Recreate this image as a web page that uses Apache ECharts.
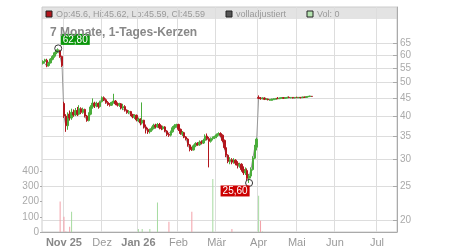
<!DOCTYPE html>
<html>
<head>
<meta charset="utf-8">
<script src="https://cdn.jsdelivr.net/npm/echarts@6/dist/echarts.min.js"></script>
<style>
  html, body { margin: 0; padding: 0; background: #fff; }
  #chart { width: 450px; height: 250px; }
</style>
</head>
<body>
<div id="chart"></div>
<script>
// trading calendar
const firstDay = "2025-10-17";
const lastDay = "2026-07-15";
const holidays = ["2025-12-24", "2025-12-25", "2025-12-26", "2025-12-31", "2026-01-01", "2026-04-03", "2026-04-06", "2026-05-01"];
const monthNames = ["Jan", "Feb", "Mär", "Apr", "Mai", "Jun", "Jul", "Aug", "Sep", "Okt", "Nov", "Dez"];
const priceTicks = [20, 25, 30, 35, 40, 45, 50, 55, 60, 65];

// daily candles (one per trading day from firstDay)
const open = [
  56.8, 57.5, 58.0, 56.0, 57.0, 58.4, 59.6, 61.0, 61.6, 61.8, 59.5,
  43.5, 40.0, 37.5, 40.5, 39.5, 41.0, 40.3, 41.5, 40.5, 42.0, 41.0, 41.8, 40.0, 38.8, 40.5, 42.5, 43.6, 42.8, 43.5, 42.6,
  44.0, 45.2, 44.6, 43.8, 43.2, 43.0, 43.8, 44.2, 43.4, 43.0, 43.4, 42.2, 42.6, 41.6, 41.0, 41.2, 40.4, 39.8, 40.2,
  38.8, 39.2, 38.2, 38.9, 37.2, 36.6, 36.0, 36.4, 36.8, 37.6, 37.2, 37.8, 37.0, 36.8, 37.2, 36.2, 35.4, 35.2, 36.0, 37.0, 37.5,
  37.8, 36.6, 35.6, 35.8, 34.8, 34.3, 33.0, 32.3, 31.9, 32.8, 33.3, 33.0, 33.6, 33.4, 34.0, 35.0, 34.4, 33.8, 34.4, 34.6,
  34.9, 35.3, 35.6, 35.2, 34.0, 32.4, 30.8, 29.6, 29.9, 29.4, 29.8, 29.2, 28.8, 29.0, 28.0, 27.4, 27.8, 26.4, 26.8, 28.0, 30.2, 32.5,
  45.3, 45.0, 44.9, 45.1, 44.7, 44.8, 44.4, 44.4, 44.6, 44.7, 45.0, 44.9, 45.1, 45.2, 45.0, 45.2, 45.3, 45.2, 45.3, 45.1,
  45.3, 45.2, 45.3, 45.2, 45.4, 45.3, 45.5, 45.6, 45.6
];
const close = [
  57.6, 58.2, 55.8, 57.0, 58.5, 59.5, 61.0, 61.8, 62.2, 59.4, 56.0,
  40.0, 37.5, 40.5, 39.5, 41.0, 40.3, 41.5, 40.5, 42.0, 41.0, 41.8, 40.0, 38.8, 40.5, 42.5, 43.6, 42.8, 43.5, 42.6, 44.0,
  45.2, 44.6, 43.8, 43.2, 43.0, 43.8, 44.2, 43.4, 43.0, 43.4, 42.2, 42.6, 41.6, 41.0, 41.2, 40.4, 39.8, 40.2, 39.0,
  39.2, 38.2, 38.9, 37.2, 36.6, 36.0, 36.4, 36.8, 37.6, 37.2, 37.8, 37.0, 36.8, 37.2, 36.2, 35.4, 35.2, 36.0, 37.0, 37.5, 37.8,
  36.6, 35.6, 35.8, 34.8, 34.3, 33.0, 32.0, 31.9, 32.8, 33.3, 33.0, 33.6, 33.4, 34.0, 35.0, 34.4, 33.8, 34.4, 34.6, 34.9,
  35.3, 35.6, 35.2, 34.0, 32.4, 30.8, 29.6, 29.9, 29.4, 29.8, 29.2, 28.8, 29.0, 28.0, 27.4, 27.8, 26.4, 26.8, 28.0, 30.2, 32.5, 34.3,
  45.0, 44.9, 45.1, 44.7, 44.8, 44.6, 44.7, 44.8, 44.9, 45.0, 44.9, 45.1, 45.2, 45.0, 45.2, 45.3, 45.2, 45.3, 45.1, 45.3,
  45.2, 45.3, 45.2, 45.4, 45.3, 45.5, 45.6, 45.7, 45.59
];
const low = [
  56.4, 57.0, 55.4, 55.6, 56.8, 58.0, 59.0, 60.4, 61.0, 59.0, 55.5,
  39.5, 36.0, 36.5, 38.8, 39.0, 39.8, 40.0, 40.0, 40.2, 40.5, 40.6, 39.6, 38.5, 38.6, 40.2, 42.0, 42.2, 42.4, 42.0, 42.3,
  43.8, 44.2, 43.4, 42.8, 42.6, 42.8, 43.5, 43.0, 42.6, 42.5, 41.8, 41.6, 41.2, 40.6, 40.5, 40.0, 39.4, 39.2, 38.6,
  38.4, 37.6, 37.8, 36.8, 35.6, 35.5, 35.6, 36.0, 36.6, 36.8, 37.0, 36.6, 36.4, 36.5, 35.9, 35.0, 34.8, 34.9, 35.8, 36.6, 37.2,
  36.2, 35.3, 35.0, 34.5, 34.0, 32.6, 31.6, 31.7, 31.8, 32.5, 32.8, 32.8, 33.1, 33.2, 33.8, 34.0, 28.4, 33.5, 34.0, 34.3,
  34.5, 35.1, 34.8, 33.6, 32.0, 30.4, 29.2, 29.0, 29.0, 29.1, 28.8, 28.2, 28.4, 27.6, 27.0, 27.0, 26.0, 25.6, 26.4, 27.8, 30.0, 31.8,
  44.8, 44.6, 44.7, 44.5, 44.5, 44.4, 44.3, 44.3, 44.5, 44.6, 44.8, 44.8, 44.9, 44.9, 44.9, 45.0, 45.1, 45.0, 45.0, 45.0,
  45.1, 45.1, 45.0, 45.1, 45.2, 45.2, 45.4, 45.5, 45.59
];
const high = [
  58.0, 58.6, 58.6, 57.4, 58.8, 60.0, 61.4, 62.4, 62.8, 62.2, 59.8,
  44.0, 40.5, 41.0, 41.5, 42.0, 41.8, 42.2, 42.5, 43.0, 42.4, 42.3, 42.0, 40.3, 41.0, 43.0, 45.0, 44.0, 44.0, 43.8, 44.3,
  45.6, 45.6, 45.0, 44.2, 43.6, 44.0, 46.4, 44.5, 43.8, 43.7, 43.6, 43.4, 43.0, 41.8, 41.6, 41.4, 40.6, 40.5, 40.4,
  39.6, 39.4, 43.8, 39.0, 37.8, 37.0, 36.8, 37.3, 38.0, 38.0, 38.2, 38.2, 37.6, 37.5, 37.4, 36.4, 35.8, 36.3, 37.4, 37.9, 38.0,
  38.0, 36.8, 36.2, 36.0, 35.0, 34.5, 33.2, 32.6, 33.1, 33.6, 33.6, 34.0, 34.0, 34.3, 35.4, 35.6, 34.8, 34.7, 34.9, 35.1,
  35.6, 35.9, 35.9, 35.4, 34.2, 32.6, 31.0, 30.4, 30.2, 30.2, 30.0, 29.6, 29.3, 29.2, 28.6, 28.4, 28.2, 27.2, 28.4, 30.6, 33.0, 34.6,
  45.9, 45.4, 45.3, 45.3, 45.0, 44.9, 44.8, 44.9, 45.0, 45.1, 45.4, 45.2, 45.3, 45.4, 45.3, 45.5, 45.6, 45.4, 45.4, 45.4,
  45.5, 45.4, 45.4, 45.5, 45.5, 45.6, 45.7, 45.8, 45.62
];
const volume = [
  0, 0, 0, 0, 0, 0, 0, 0, 0, 200, 0, 100, 4, 0, 35, 133, 0, 0, 0, 0,
  0, 0, 0, 0, 0, 0, 0, 0, 0, 0, 0, 0, 0, 0, 0, 0, 0, 0, 0, 0,
  0, 0, 0, 0, 0, 0, 0, 0, 0, 0, 20, 0, 20, 0, 0, 0, 20, 0, 0, 0,
  193, 0, 0, 0, 0, 0, 68, 0, 0, 0, 0, 0, 0, 0, 0, 0, 0, 0, 133, 0,
  0, 0, 0, 0, 0, 0, 0, 0, 0, 348, 0, 0, 0, 0, 0, 0, 0, 0, 0, 20,
  0, 0, 0, 0, 0, 0, 0, 0, 0, 0, 0, 0, 0, 238, 74, 4, 0, 0, 0, 0,
  0, 0, 0, 0, 0, 0, 0, 0, 0, 0, 0, 0, 0, 0, 0, 0, 0, 0, 0, 0,
  0, 0
];

const UP = "#4aad3b";
const DOWN = "#b3161d";

function tradingDays(from, to) {
  const days = [];
  const d = new Date(from + "T00:00:00Z");
  const end = new Date(to + "T00:00:00Z");
  while (d <= end) {
    const wd = d.getUTCDay();
    const s = d.toISOString().slice(0, 10);
    if (wd !== 0 && wd !== 6 && !holidays.includes(s)) days.push(s);
    d.setUTCDate(d.getUTCDate() + 1);
  }
  return days;
}

const dates = tradingDays(firstDay, lastDay);
const isMonthStart = i => i > 0 && dates[i].slice(5, 7) !== dates[i - 1].slice(5, 7);
const firstMonthStart = dates.findIndex((d, i) => isMonthStart(i));

const candles = open.map((o, i) => [o, close[i], low[i], high[i]]);
const volBars = volume.map((v, i) => ({
  value: v,
  itemStyle: { color: i > 0 && close[i] < close[i - 1] ? "#f3a0a8" : "#a6dba0" }
}));

const last = open.length - 1;
const headerText = `Op:${open[last]}, Hi:${high[last]}, Lo:${low[last]}, Cl:${close[last]}`;
const comma = p => p.value.toFixed(2).replace(".", ",");
const font = "Liberation Sans, Arial, sans-serif";

const chart = echarts.init(document.getElementById("chart"));
chart.setOption({
  animation: false,
  textStyle: { fontFamily: font },
  title: {
    text: "7 Monate, 1-Tages-Kerzen",
    left: 45,
    top: 22,
    textStyle: { fontSize: 12, fontWeight: "bold", color: "#888" }
  },
  graphic: [
    { type: "rect", z: -10, shape: { x: 42, y: 7, width: 355, height: 12 }, style: { fill: "#e3e3e3" } },
    { type: "rect", shape: { x: 46, y: 11, width: 6, height: 6 }, style: { fill: "#b3161d", stroke: "#222", lineWidth: 1 } },
    { type: "text", x: 56, y: 14.5, style: { text: headerText, fill: "#999", fontSize: 9, verticalAlign: "middle", fontFamily: font } },
    { type: "rect", shape: { x: 226, y: 11, width: 6, height: 6 }, style: { fill: "#555", stroke: "#222", lineWidth: 1 } },
    { type: "text", x: 236, y: 14.5, style: { text: "volladjustiert", fill: "#999", fontSize: 9, verticalAlign: "middle", fontFamily: font } },
    { type: "rect", shape: { x: 307, y: 11, width: 6, height: 6 }, style: { fill: "#b5e3b0", stroke: "#222", lineWidth: 1 } },
    { type: "text", x: 317, y: 14.5, style: { text: "Vol: 0", fill: "#999", fontSize: 9, verticalAlign: "middle", fontFamily: font } }
  ],
  grid: [
    { left: 42, right: 53, top: 7, bottom: 18, show: true, borderColor: "#ccc", borderWidth: 1 },
    { left: 42, right: 53, bottom: 18, height: 61 }
  ],
  xAxis: [
    {
      type: "category",
      gridIndex: 0,
      data: dates,
      boundaryGap: true,
      axisLine: { lineStyle: { color: "#aaa" } },
      axisTick: { interval: isMonthStart, length: 3, lineStyle: { color: "#ccc" } },
      splitLine: { show: true, interval: isMonthStart, lineStyle: { color: "#ddd" } },
      axisLabel: {
        interval: isMonthStart,
        margin: 5,
        color: "#999",
        fontSize: 11,
        formatter: value => {
          const m = +value.slice(5, 7) - 1;
          if (m === 0 || value === dates[firstMonthStart]) return `{b|${monthNames[m]} ${value.slice(2, 4)}}`;
          return monthNames[m];
        },
        rich: { b: { fontWeight: "bold", color: "#888", fontSize: 11 } }
      }
    },
    {
      type: "category",
      gridIndex: 1,
      data: dates,
      boundaryGap: true,
      show: false
    }
  ],
  yAxis: [
    {
      type: "log",
      gridIndex: 0,
      position: "right",
      min: 18.46,
      max: 82.76,
      axisLine: { show: true, lineStyle: { color: "#aaa" } },
      axisTick: { show: true, inside: true, length: 4, customValues: priceTicks, lineStyle: { color: "#aaa" } },
      axisLabel: { customValues: priceTicks, color: "#aaa", fontSize: 10, margin: 3 },
      splitLine: { show: true, lineStyle: { color: "#ddd" } }
    },
    {
      type: "value",
      gridIndex: 1,
      position: "left",
      min: 0,
      max: 400,
      interval: 100,
      axisLine: { show: false },
      axisTick: { show: true, length: 2, lineStyle: { color: "#aaa" } },
      axisLabel: { color: "#aaa", fontSize: 10, margin: 3 },
      splitLine: { show: false }
    }
  ],
  series: [
    {
      type: "bar",
      xAxisIndex: 1,
      yAxisIndex: 1,
      barWidth: 1,
      data: volBars
    },
    {
      type: "line",
      xAxisIndex: 0,
      yAxisIndex: 0,
      data: close,
      symbol: "none",
      z: 1,
      lineStyle: { color: "#999", width: 1 }
    },
    {
      type: "candlestick",
      xAxisIndex: 0,
      yAxisIndex: 0,
      barWidth: 2,
      z: 3,
      data: candles,
      itemStyle: { color: UP, color0: DOWN, borderColor: UP, borderColor0: DOWN, borderWidth: 1 },
      markPoint: {
        symbol: "circle",
        symbolSize: 7,
        itemStyle: { color: "rgba(0,0,0,0)", borderColor: "#333", borderWidth: 1 },
        data: [
          {
            type: "max", valueDim: "highest",
            label: { show: true, position: [6.5, -10.5], formatter: comma, color: "#fff", backgroundColor: "#0a960a", fontSize: 10, padding: [1, 2, 0, 2] }
          },
          {
            type: "min", valueDim: "lowest",
            label: { show: true, position: [-24.5, 6.5], formatter: comma, color: "#fff", backgroundColor: "#cc0000", fontSize: 10, padding: [1, 2, 0, 2] }
          }
        ]
      }
    }
  ]
});
</script>
</body>
</html>
